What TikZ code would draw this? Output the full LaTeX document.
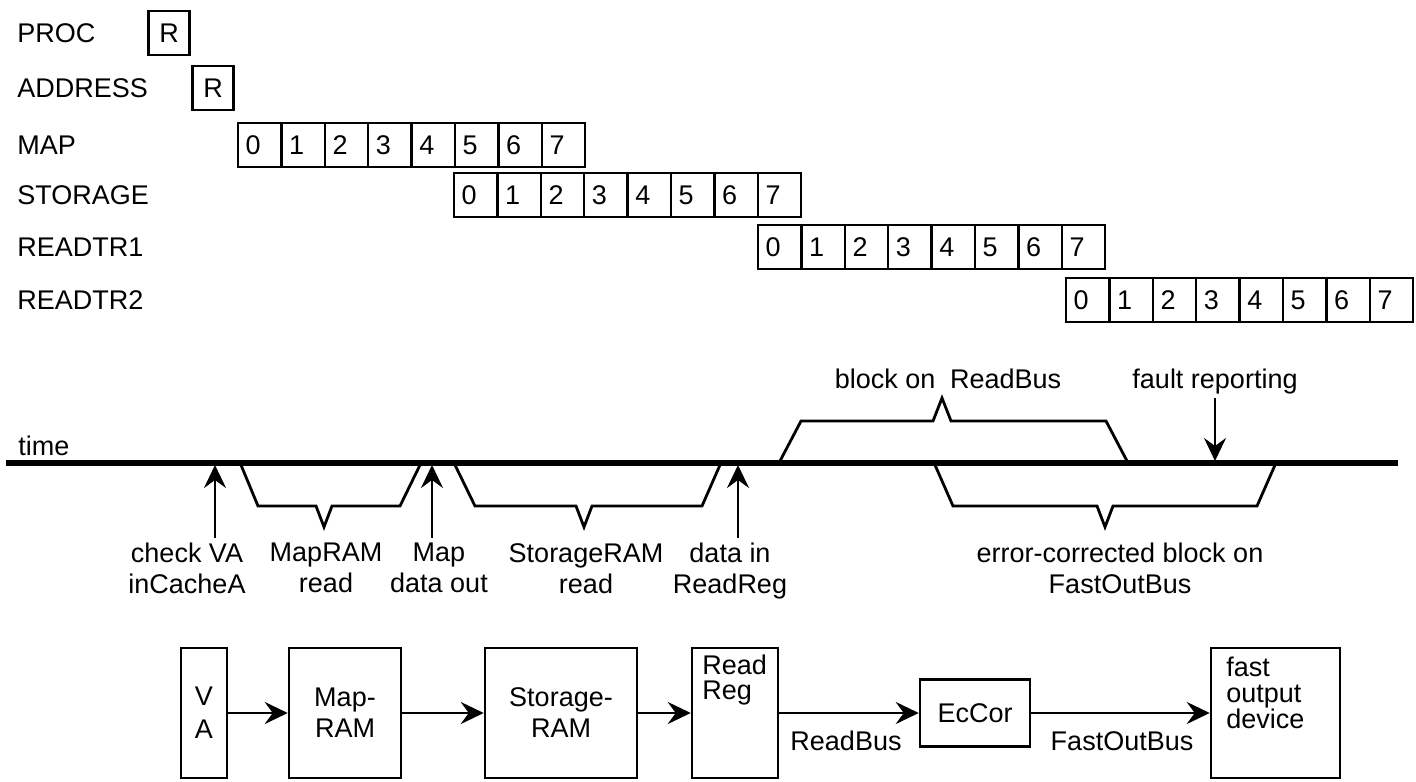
\documentclass[tikz,border=0pt]{standalone}
\usepackage{fontspec}
\setmainfont{Liberation Sans}
\usetikzlibrary{arrows.meta}
\begin{document}
\begin{tikzpicture}[x=0.5pt,y=-0.5pt,
  txt/.style={inner sep=0pt, font=\fontsize{13.5}{15.5}\selectfont},
  rowlbl/.style={txt, anchor=west},
  rbox/.style={draw, line width=1.25pt, minimum width=20.5pt, minimum height=22pt, inner sep=0pt, font=\fontsize{13.5}{15.5}\selectfont},
  cellbox/.style={draw, line width=1.25pt, minimum width=21.7pt, minimum height=22pt, inner ysep=0pt, inner xsep=3.85pt, text width=14pt, align=left, font=\fontsize{13.5}{15.5}\selectfont},
  blk/.style={draw, line width=1.25pt, inner sep=0pt, align=center, font=\fontsize{13.5}{15.5}\selectfont},
  below lbl/.style={txt, anchor=north, align=center},
  arr/.style={line width=1.25pt, -{Stealth[length=11.5pt,width=11pt,inset=4pt]}},
  bracepath/.style={line width=1.4pt, line join=miter},
]
\path[use as bounding box, fill=white] (0,0) rectangle (1416,781);

% ---------- rows ----------
\node[rowlbl] (lproc) at (17,33) {PROC};
\node[rowlbl] (laddr) at (17,88) {ADDRESS};
\node[rowlbl] (lmap)  at (17,145) {MAP};
\node[rowlbl] (lsto)  at (17,195) {STORAGE};
\node[rowlbl] (lrtA)  at (17,247) {READTR1};
\node[rowlbl] (lrtB)  at (17,300) {READTR2};

\node[rbox] (rproc) at (169,33) {R};
\node[rbox] (raddr) at (213,88) {R};

\foreach \nm/\x/\y in {map/238/145, sto/454/195, rtA/758/247, rtB/1066/300}{
  \foreach \i in {0,...,7}{
    \node[cellbox] (\nm\i) at ({\x+21.7+43.4*\i},\y) {\i};
  }
}

% ---------- time line ----------
\node[txt, anchor=base west] (ltime) at (18,455) {time};
\coordinate (tlA) at (6,463);
\coordinate (tlB) at (1398,463);
\draw[line width=2.8pt] (tlA) -- (tlB);

% up arrows
\coordinate (chkB) at (215,538); \coordinate (chkT) at (215,465);
\coordinate (mdoB) at (432,538); \coordinate (mdoT) at (432,465);
\coordinate (dinB) at (738,538); \coordinate (dinT) at (738,465);
\draw[arr] (chkB) -- (chkT);
\draw[arr] (mdoB) -- (mdoT);
\draw[arr] (dinB) -- (dinT);

% fault reporting arrow
\coordinate (fltT) at (1215,398); \coordinate (fltB) at (1215,461);
\draw[arr] (fltT) -- (fltB);

% braces
\draw[bracepath] (241,465) -- (258,506) -- (316,506) -- (324,527) -- (332,506) -- (400,506) -- (420,465);
\draw[bracepath] (455,465) -- (475,506) -- (576,506) -- (584,527) -- (592,506) -- (702,506) -- (720,465);
\draw[bracepath] (780,461) -- (801,421) -- (933,421) -- (942,398) -- (951,421) -- (1106,421) -- (1127,461);
\draw[bracepath] (935,465) -- (953,506) -- (1097,506) -- (1105,527) -- (1113,506) -- (1257,506) -- (1275,465);

% labels above the line
\node[txt, anchor=base] (lblk) at (948,388) {block on\hspace{0.55em}ReadBus};
\node[txt, anchor=base] (lflt) at (1215,388) {fault reporting};

% labels below the line
\node[below lbl] (lchk) at (187,543) {check VA\\inCacheA};
\node[below lbl] (lmrd) at (326,543) {MapRAM\\read};
\node[below lbl] (lmdo) at (439,543) {Map\\data out};
\node[below lbl] (lsrd) at (586,543) {StorageRAM\\read};
\node[below lbl] (ldin) at (730,543) {data in\\ReadReg};
\node[below lbl] (lerr) at (1120,543) {error-corrected block on\\FastOutBus};

% ---------- block diagram ----------
\node[blk, minimum width=23pt, minimum height=65pt, font=\fontsize{13.5}{16.5}\selectfont] (va) at (204,713) {V\\A};
\node[blk, minimum width=56pt, minimum height=65pt] (mram) at (345,713) {Map-\\RAM};
\node[blk, minimum width=76pt, minimum height=65pt] (sram) at (561,713) {Storage-\\RAM};
\node[blk, minimum width=43pt, minimum height=65pt] (rreg) at (735,713) {};
\node[txt, anchor=north west, align=left, font=\fontsize{13.5}{12.5}\selectfont] (rregt) at (702,655) {Read\\Reg};
\node[blk, minimum width=55pt, minimum height=33.5pt] (ecc) at (975,713) {EcCor};
\node[blk, minimum width=64.5pt, minimum height=65pt] (fod) at (1275.5,713) {};
\node[txt, anchor=north west, align=left, font=\fontsize{13.5}{13}\selectfont] (fodt) at (1226,657) {fast\\output\\device};

\draw[arr] (va) -- (mram);
\draw[arr] (mram) -- (sram);
\draw[arr] (sram) -- (rreg);
\draw[arr] (rreg) -- (ecc);
\draw[arr] (ecc) -- (fod);

\node[txt, anchor=base] (lrb) at (846,750) {ReadBus};
\node[txt, anchor=base] (lfob) at (1122,750) {FastOutBus};
\end{tikzpicture}
\end{document}
